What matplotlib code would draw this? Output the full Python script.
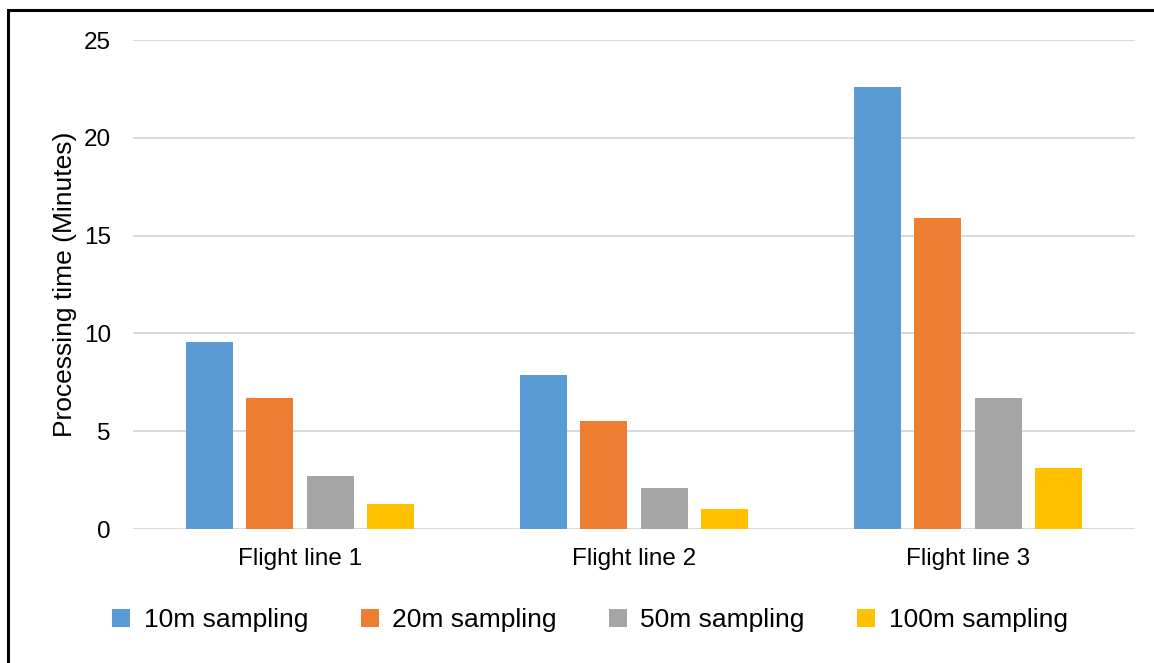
import numpy as np
import matplotlib.pyplot as plt
from matplotlib.patches import Rectangle

plt.rcParams['font.family'] = ['Liberation Sans', 'DejaVu Sans']

# --- data ---
flight_lines = ["Flight line 1", "Flight line 2", "Flight line 3"]
sampling_labels = ["10m sampling", "20m sampling", "50m sampling", "100m sampling"]
time_10m = [9.55, 7.85, 22.6]
time_20m = [6.7, 5.5, 15.9]
time_50m = [2.7, 2.1, 6.7]
time_100m = [1.3, 1.0, 3.1]
y_ticks = [0, 5, 10, 15, 20, 25]

series = [time_10m, time_20m, time_50m, time_100m]
colors = ["#5B9BD5", "#ED7D31", "#A5A5A5", "#FFC000"]

fig = plt.figure(figsize=(11.54, 6.63), dpi=100)
ax = fig.add_axes([133 / 1154, 1 - 529 / 663, (1135 - 133) / 1154, (529 - 40) / 663])

x = np.arange(len(flight_lines))
step = 0.1805
width = 0.141
offsets = (np.arange(len(series)) - 1.5) * step
for vals, off, col, lab in zip(series, offsets, colors, sampling_labels):
    ax.bar(x + off, vals, width=width, color=col, label=lab, zorder=3)

ax.set_xlim(-0.5, 2.5)
ax.set_ylim(0, 25)
ax.set_yticks(y_ticks)
ax.set_xticks(x)
ax.set_xticklabels(flight_lines, fontsize=17.5)
ax.tick_params(axis="y", length=0, pad=16, labelsize=17.5)
ax.tick_params(axis="x", length=0, pad=14)
ax.grid(axis="y", color="#D9D9D9", linewidth=1.4, zorder=0)
for s in ax.spines.values():
    s.set_visible(False)
ax.set_ylabel("Processing time (Minutes)", fontsize=19, labelpad=5)

fig.legend(loc="center", bbox_to_anchor=(590 / 1154, 1 - 620 / 663), ncol=4,
           frameon=False, fontsize=19, handlelength=0.68, handleheight=0.68,
           handletextpad=0.5, columnspacing=2.0)

# outer frame (left and top edges visible)
fig.add_artist(Rectangle((8 / 1154, -0.1), 1.2, 1.1 - 10 / 663,
                         transform=fig.transFigure, fill=False,
                         edgecolor="black", linewidth=2.2, clip_on=False))

fig.savefig("out.png", dpi=100)
